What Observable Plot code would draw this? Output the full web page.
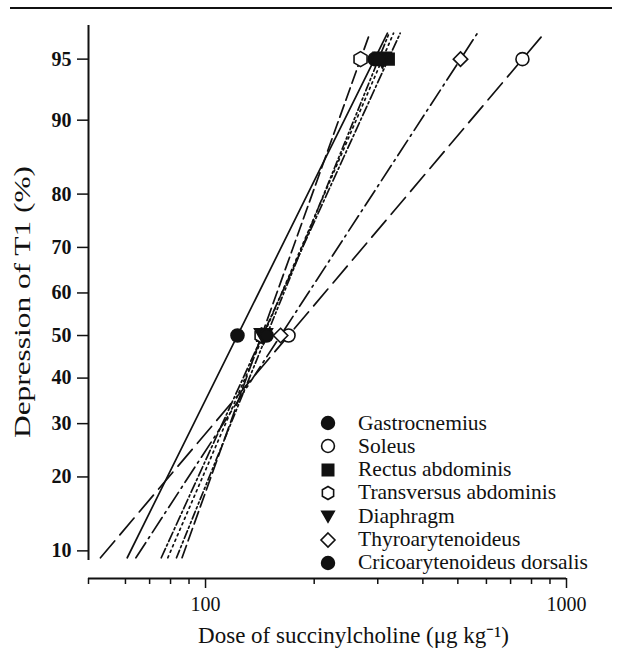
<!DOCTYPE html>
<html>
<head>
<meta charset="utf-8">
<script src="https://cdn.jsdelivr.net/npm/d3@7"></script>
<script src="https://cdn.jsdelivr.net/npm/@observablehq/plot@0.6"></script>
<style>
  html, body { margin: 0; padding: 0; background: #fff; }
  #wrap { position: relative; width: 619px; height: 662px; overflow: hidden; font-family: "Liberation Serif", "Times New Roman", serif; }
  #topline { position: absolute; left: 10px; top: 7px; width: 602px; height: 2px; background: #111; }
  #legend { position: absolute; left: 0; top: 0; }
  .lrow { position: absolute; height: 24px; display: flex; align-items: center; font-size: 21.5px; color: #111; white-space: nowrap; }
</style>
</head>
<body>
<div id="wrap"><div id="topline"></div><div id="chart"></div><div id="legend"></div></div>
<script>
// ---- data ----
const muscles = ["Gastrocnemius", "Soleus", "Rectus abdominis", "Transversus abdominis", "Diaphragm", "Thyroarytenoideus", "Cricoarytenoideus dorsalis"];
const ed50 = [122.6, 169.8, 143.8, 143.0, 144.7, 161.4, 147.6];   // dose at 50% depression of T1
const ed95 = [294, 755, 321, 268.8, 309, 508.6, 301.6];            // dose at 95% depression of T1
const lineFrom = 9.3;    // regression lines drawn from this % ...
const lineTo = 96.4;     // ... up to this %
const yTicks = [10, 20, 30, 40, 50, 60, 70, 80, 90, 95];
const xMinorTicks = [60, 70, 80, 90, 200, 300, 400, 500, 600, 700, 800, 900];
const xMajorTicks = [100, 1000];

// ---- styles ----
const symbols = ["circle", "circle", "square", "hexagon", "tridown", "diamond2", "circle"];
const filled = [true, false, true, false, true, false, true];
const dashes = ["none", "22,8", "10,3,2,3", "13,5", "2,4", "18,5,2,5", "8,3,2,3,2,3"];

// inverse normal CDF (probit scale of the y axis)
function probit(p) {
  const a=[-3.969683028665376e+01,2.209460984245205e+02,-2.759285104469687e+02,1.383577518672690e+02,-3.066479806614716e+01,2.506628277459239e+00];
  const b=[-5.447609879822406e+01,1.615858368580409e+02,-1.556989798598866e+02,6.680131188771972e+01,-1.328068155288572e+01];
  const c=[-7.784894002430293e-03,-3.223964580411365e-01,-2.400758277161838e+00,-2.549732539343734e+00,4.374664141464968e+00,2.938163982698783e+00];
  const d=[7.784695709041462e-03,3.224671290700398e-01,2.445134137142996e+00,3.754408661907416e+00];
  const pl = 0.02425, ph = 1 - pl; let q, r;
  if (p < pl) { q = Math.sqrt(-2*Math.log(p)); return (((((c[0]*q+c[1])*q+c[2])*q+c[3])*q+c[4])*q+c[5])/((((d[0]*q+d[1])*q+d[2])*q+d[3])*q+1); }
  if (p <= ph) { q = p - 0.5; r = q*q; return (((((a[0]*r+a[1])*r+a[2])*r+a[3])*r+a[4])*r+a[5])*q/(((((b[0]*r+b[1])*r+b[2])*r+b[3])*r+b[4])*r+1); }
  q = Math.sqrt(-2*Math.log(1-p)); return -(((((c[0]*q+c[1])*q+c[2])*q+c[3])*q+c[4])*q+c[5])/((((d[0]*q+d[1])*q+d[2])*q+d[3])*q+1);
}
const z = pct => probit(pct / 100);
const z95 = z(95);

// probit regression line through (ED50, 50%) and (ED95, 95%)
function doseAt(i, pct) {
  const l50 = Math.log10(ed50[i]), l95 = Math.log10(ed95[i]);
  return Math.pow(10, l50 + z(pct) / z95 * (l95 - l50));
}
const lineData = muscles.flatMap((m, i) => [lineFrom, lineTo].map(p => ({muscle: m, dose: doseAt(i, p), z: z(p)})));
const pointData = muscles.flatMap((m, i) => [{muscle: m, dose: ed50[i], z: z(50)}, {muscle: m, dose: ed95[i], z: z(95)}]);

const triDown = {
  draw(ctx, size) {
    const s = Math.sqrt(size) * 0.78;
    ctx.moveTo(-s, -s * 0.75); ctx.lineTo(s, -s * 0.75); ctx.lineTo(0, s * 1.0); ctx.closePath();
  }
};
const sym = s => s === "tridown" ? triDown : s;

// frame of the probit axis (in probit units) and of the log dose axis
const zTop = 1.845, zBottom = -1.446, zAxisEnd = -1.339;
const xDomain = [47.4, 1000];
const yTickZ = yTicks.map(z);

const W = 619, H = 662;
const plot = Plot.plot({
  width: W, height: H,
  marginLeft: 88, marginRight: 53, marginTop: 25, marginBottom: 84,
  style: {fontFamily: "Liberation Serif, Times New Roman, serif", color: "#111", background: "white"},
  x: {type: "log", domain: xDomain, label: null},
  y: {type: "linear", domain: [zBottom, zTop], label: null},
  marks: [
    Plot.ruleX([xDomain[0]], {y1: zAxisEnd, y2: zTop, stroke: "#111", strokeWidth: 2}),
    Plot.ruleY([zBottom], {stroke: "#111", strokeWidth: 2}),
    Plot.axisY({ticks: yTickZ, tickSize: 11, tickPadding: 6, fontSize: 20, fontWeight: "bold",
      strokeWidth: 1.5, label: null,
      tickFormat: v => { const k = yTickZ.findIndex(t => Math.abs(t - v) < 1e-9); return k >= 0 ? String(yTicks[k]) : ""; }}),
    Plot.axisX({ticks: [xDomain[0], ...xMinorTicks], tickSize: 6, strokeWidth: 1.5, label: null, tickFormat: () => ""}),
    Plot.axisX({ticks: xMajorTicks, tickSize: 10, tickPadding: 8, fontSize: 20, strokeWidth: 1.5, label: null, tickFormat: d => String(d)}),
    Plot.text(["Depression of T1 (%)"], {frameAnchor: "left", textAnchor: "middle", rotate: -90, dx: -66, fontSize: 24, className: "ylab"}),
    Plot.text(["Dose of succinylcholine (\u03bcg kg\u207b\u00b9)"], {frameAnchor: "bottom", textAnchor: "middle", dx: 26, dy: 64, fontSize: 23}),
    ...muscles.map((m, i) => Plot.line(lineData.filter(d => d.muscle === m), {
      x: "dose", y: "z", stroke: "#111", strokeWidth: 1.7,
      strokeDasharray: dashes[i] === "none" ? null : dashes[i]
    })),
    ...muscles.map((m, i) => Plot.dot(pointData.filter(d => d.muscle === m), {
      x: "dose", y: "z", symbol: sym(symbols[i]), r: 6.5,
      fill: filled[i] ? "#111" : "white", stroke: "#111", strokeWidth: 1.6
    }))
  ]
});
document.getElementById("chart").appendChild(plot);
// the printed y-axis title is drawn taller than the font's natural length
d3.select(plot).selectAll("g.ylab text").attr("textLength", 272).attr("lengthAdjust", "spacingAndGlyphs");

// legend (inside the plot area, lower right)
const legend = d3.select("#legend");
muscles.forEach((m, i) => {
  const cy = 423 + i * 23.3;
  const row = legend.append("div").attr("class", "lrow").style("left", "316px").style("top", (cy - 12) + "px");
  const svg = row.append("svg").attr("width", 24).attr("height", 24).style("margin-right", "18px");
  const s = symbols[i];
  const path = s === "tridown"
    ? (() => { const p = d3.path(); const r = 6.2; p.moveTo(-r, -r*0.75); p.lineTo(r, -r*0.75); p.lineTo(0, r); p.closePath(); return p.toString(); })()
    : s === "diamond2"
      ? (() => { const p = d3.path(); const r = 7; p.moveTo(0, -r); p.lineTo(r, 0); p.lineTo(0, r); p.lineTo(-r, 0); p.closePath(); return p.toString(); })()
      : s === "hexagon"
        ? (() => { const p = d3.path(); const r = 6.5; for (let k = 0; k < 6; k++) { const a = Math.PI / 3 * k + Math.PI / 6; const px = r * Math.cos(a), py = r * Math.sin(a); k ? p.lineTo(px, py) : p.moveTo(px, py); } p.closePath(); return p.toString(); })()
        : d3.symbol(s === "square" ? d3.symbolSquare : d3.symbolCircle, 130)();
  svg.append("path").attr("d", path).attr("transform", "translate(12,12)")
    .attr("fill", filled[i] ? "#111" : "white").attr("stroke", "#111").attr("stroke-width", 1.6);
  row.append("span").text(m);
});
</script>
</body>
</html>
